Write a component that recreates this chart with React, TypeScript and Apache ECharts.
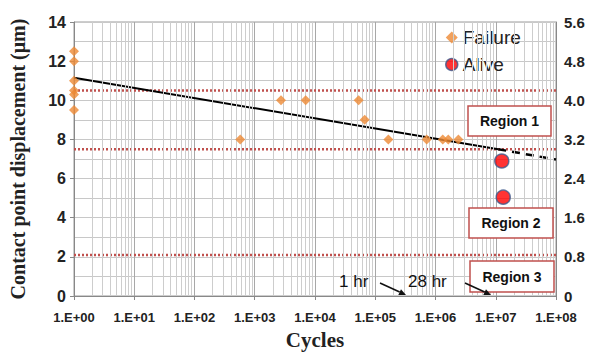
import React, { useEffect, useRef } from "react";
import * as echarts from "echarts";

const xTickLabels = ["1.E+00", "1.E+01", "1.E+02", "1.E+03", "1.E+04", "1.E+05", "1.E+06", "1.E+07", "1.E+08"];
const yLeftLabels = [0, 2, 4, 6, 8, 10, 12, 14];
const yRightLabels = ["0", "0.8", "1.6", "2.4", "3.2", "4.0", "4.8", "5.6"];

const failureCycles = [1, 1, 1, 1, 1, 1, 575, 2730, 7000, 53000, 66800, 165000, 714000, 1320000, 1630000, 2400000];
const failureDisp = [12.5, 12, 11, 10.5, 10.3, 9.5, 8, 10, 10, 10, 9, 8, 8, 8, 8, 8];
const aliveCycles = [12600000, 13300000];
const aliveDisp = [6.9, 5.05];

const trendSolid = [[1, 11.15], [11000000, 7.5]];
const trendDashed = [[11000000, 7.5], [100000000, 6.97]];
const regionLimits = [10.5, 7.5, 2.1];

const regionBoxes = [
  { label: "Region 1", x: 468, y: 106, w: 83, h: 30 },
  { label: "Region 2", x: 469, y: 208, w: 84, h: 30 },
  { label: "Region 3", x: 470, y: 261, w: 84, h: 31 },
];

function arrow(x1: number, y1: number, x2: number, y2: number) {
  const dx = x2 - x1, dy = y2 - y1;
  const L = Math.sqrt(dx * dx + dy * dy);
  const ux = dx / L, uy = dy / L;
  const hl = 7, hw = 3.2;
  const bx = x2 - ux * hl, by = y2 - uy * hl;
  return [
    { type: "line", shape: { x1, y1, x2: bx, y2: by }, style: { stroke: "#111", lineWidth: 1.6 } },
    {
      type: "polygon",
      shape: { points: [[x2, y2], [bx - uy * hw, by + ux * hw], [bx + uy * hw, by - ux * hw]] },
      style: { fill: "#111" },
    },
  ];
}

export default function App() {
  const ref = useRef<HTMLDivElement>(null);
  useEffect(() => {
    if (!ref.current) return;
    const chart = echarts.init(ref.current, null, { renderer: "svg" });
    const minorLines: any[] = [];
    for (let k = 0; k < 8; k++) {
      for (let m = 2; m <= 9; m++) minorLines.push({ xAxis: m * Math.pow(10, k) });
    }
    const tickFont = "Liberation Sans";
    const graphics: any[] = [];
    regionBoxes.forEach((b) => {
      graphics.push({
        type: "rect",
        shape: { x: b.x, y: b.y, width: b.w, height: b.h },
        style: { fill: "#fff", stroke: "#c0504d", lineWidth: 1.5 },
        z: 10,
      });
      graphics.push({
        type: "text",
        x: b.x + b.w / 2,
        y: b.y + b.h / 2,
        style: { text: b.label, fill: "#111", font: "bold 14px 'Liberation Sans'", align: "center", verticalAlign: "middle" },
        z: 11,
      });
    });
    graphics.push({ type: "text", x: 339, y: 281, style: { text: "1 hr", fill: "#111", font: "17px 'Liberation Sans'", verticalAlign: "middle" }, z: 11 });
    graphics.push({ type: "text", x: 408, y: 281, style: { text: "28 hr", fill: "#111", font: "17px 'Liberation Sans'", verticalAlign: "middle" }, z: 11 });
    graphics.push(...arrow(380, 283, 406, 295).map((g) => ({ ...g, z: 11 })));
    graphics.push(...arrow(465, 283, 491, 295).map((g) => ({ ...g, z: 11 })));

    chart.setOption({
      animation: false,
      backgroundColor: "#fff",
      grid: {
        left: 74, right: 44, top: 22, bottom: 58,
        outerBoundsMode: "none",
        containLabel: false,
        show: true, borderColor: "#9a9a9a", borderWidth: 1,
      },
      legend: {
        orient: "vertical",
        left: 440,
        top: 23,
        itemGap: 8,
        itemWidth: 12,
        itemHeight: 12,
        textStyle: { fontSize: 19, fontFamily: "Liberation Sans", color: "#222" },
        data: [
          { name: "Failure", icon: "diamond", itemStyle: { color: "#ee8a35" } },
          { name: "Alive", icon: "circle", itemStyle: { color: "#ff0000", borderColor: "#3d5a8c", borderWidth: 1.5 } },
        ],
      },
      xAxis: {
        type: "log",
        logBase: 10,
        min: 1,
        max: 100000000,
        name: "Cycles",
        nameLocation: "middle",
        nameGap: 33,
        nameTextStyle: { fontFamily: "Liberation Serif", fontWeight: "bold", fontSize: 21, color: "#222" },
        axisLine: { show: true, lineStyle: { color: "#888" } },
        axisTick: { show: true, length: 4, lineStyle: { color: "#888" } },
        axisLabel: {
          fontFamily: tickFont,
          fontWeight: "bold",
          fontSize: 13,
          color: "#222",
          margin: 15,
          formatter: (v: number) => xTickLabels[Math.round(Math.log10(v))] ?? "",
        },
        splitLine: { show: true, lineStyle: { color: "#a8a8a8", width: 1 } },
      },
      yAxis: [
        {
          type: "value",
          min: 0,
          max: 14,
          interval: 2,
          name: "Contact point displacement (μm)",
          nameLocation: "middle",
          nameGap: 46,
          nameTextStyle: { fontFamily: "Liberation Serif", fontWeight: "bold", fontSize: 20, color: "#222" },
          axisLine: { show: true, lineStyle: { color: "#888" } },
          axisTick: { show: true, length: 4, lineStyle: { color: "#888" } },
          axisLabel: {
            fontFamily: tickFont,
            fontWeight: "bold",
            fontSize: 16,
            color: "#222",
            margin: 8,
            formatter: (v: number) => (yLeftLabels.includes(v) ? String(v) : ""),
          },
          splitLine: { show: false },
        },
        {
          type: "value",
          min: 0,
          max: 5.6,
          interval: 0.8,
          position: "right",
          axisLine: { show: true, lineStyle: { color: "#888" } },
          axisTick: { show: false },
          axisLabel: {
            fontFamily: tickFont,
            fontWeight: "bold",
            fontSize: 15,
            color: "#222",
            margin: 8,
            formatter: (v: number) => yRightLabels[Math.round(v / 0.8)] ?? "",
          },
          splitLine: { show: true, lineStyle: { color: "#c8c8c8" } },
          minorTick: { show: false, splitNumber: 2 },
          minorSplitLine: { show: true, lineStyle: { color: "#c8c8c8" } },
        },
      ],
      series: [
        {
          type: "scatter",
          name: "grid",
          data: [],
          silent: true,
          markLine: {
            silent: true,
            symbol: ["none", "none"],
            label: { show: false },
            lineStyle: { color: "#cdcdcd", type: "solid", width: 1 },
            data: minorLines,
          },
          z: 1,
        },
        ...regionLimits.map((v) => ({
          type: "line",
          name: "limit" + v,
          data: [[1, v], [100000000, v]],
          symbol: "none",
          silent: true,
          lineStyle: { color: "#c0504d", width: 2.5, type: [2, 2] },
          z: 3,
        })),
        {
          type: "line",
          name: "trend",
          data: trendSolid,
          symbol: "none",
          lineStyle: { color: "#000", width: 2 },
          z: 4,
        },
        {
          type: "line",
          name: "trend2",
          data: trendDashed,
          symbol: "none",
          lineStyle: { color: "#000", width: 2.5, type: [8, 6] },
          z: 4,
        },
        {
          type: "scatter",
          name: "Failure",
          data: failureCycles.map((c, i) => [c, failureDisp[i]]),
          symbol: "diamond",
          symbolSize: 10,
          itemStyle: { color: "#ee8a35" },
          z: 5,
        },
        {
          type: "scatter",
          name: "Alive",
          data: aliveCycles.map((c, i) => [c, aliveDisp[i]]),
          symbol: "circle",
          symbolSize: 14,
          itemStyle: { color: "#ff0000", borderColor: "#3d5a8c", borderWidth: 1.5 },
          z: 6,
        },
      ],
      graphic: graphics,
    });
    return () => chart.dispose();
  }, []);
  return <div ref={ref} style={{ width: 600, height: 354, position: "absolute", left: 0, top: 0 }} />;
}
